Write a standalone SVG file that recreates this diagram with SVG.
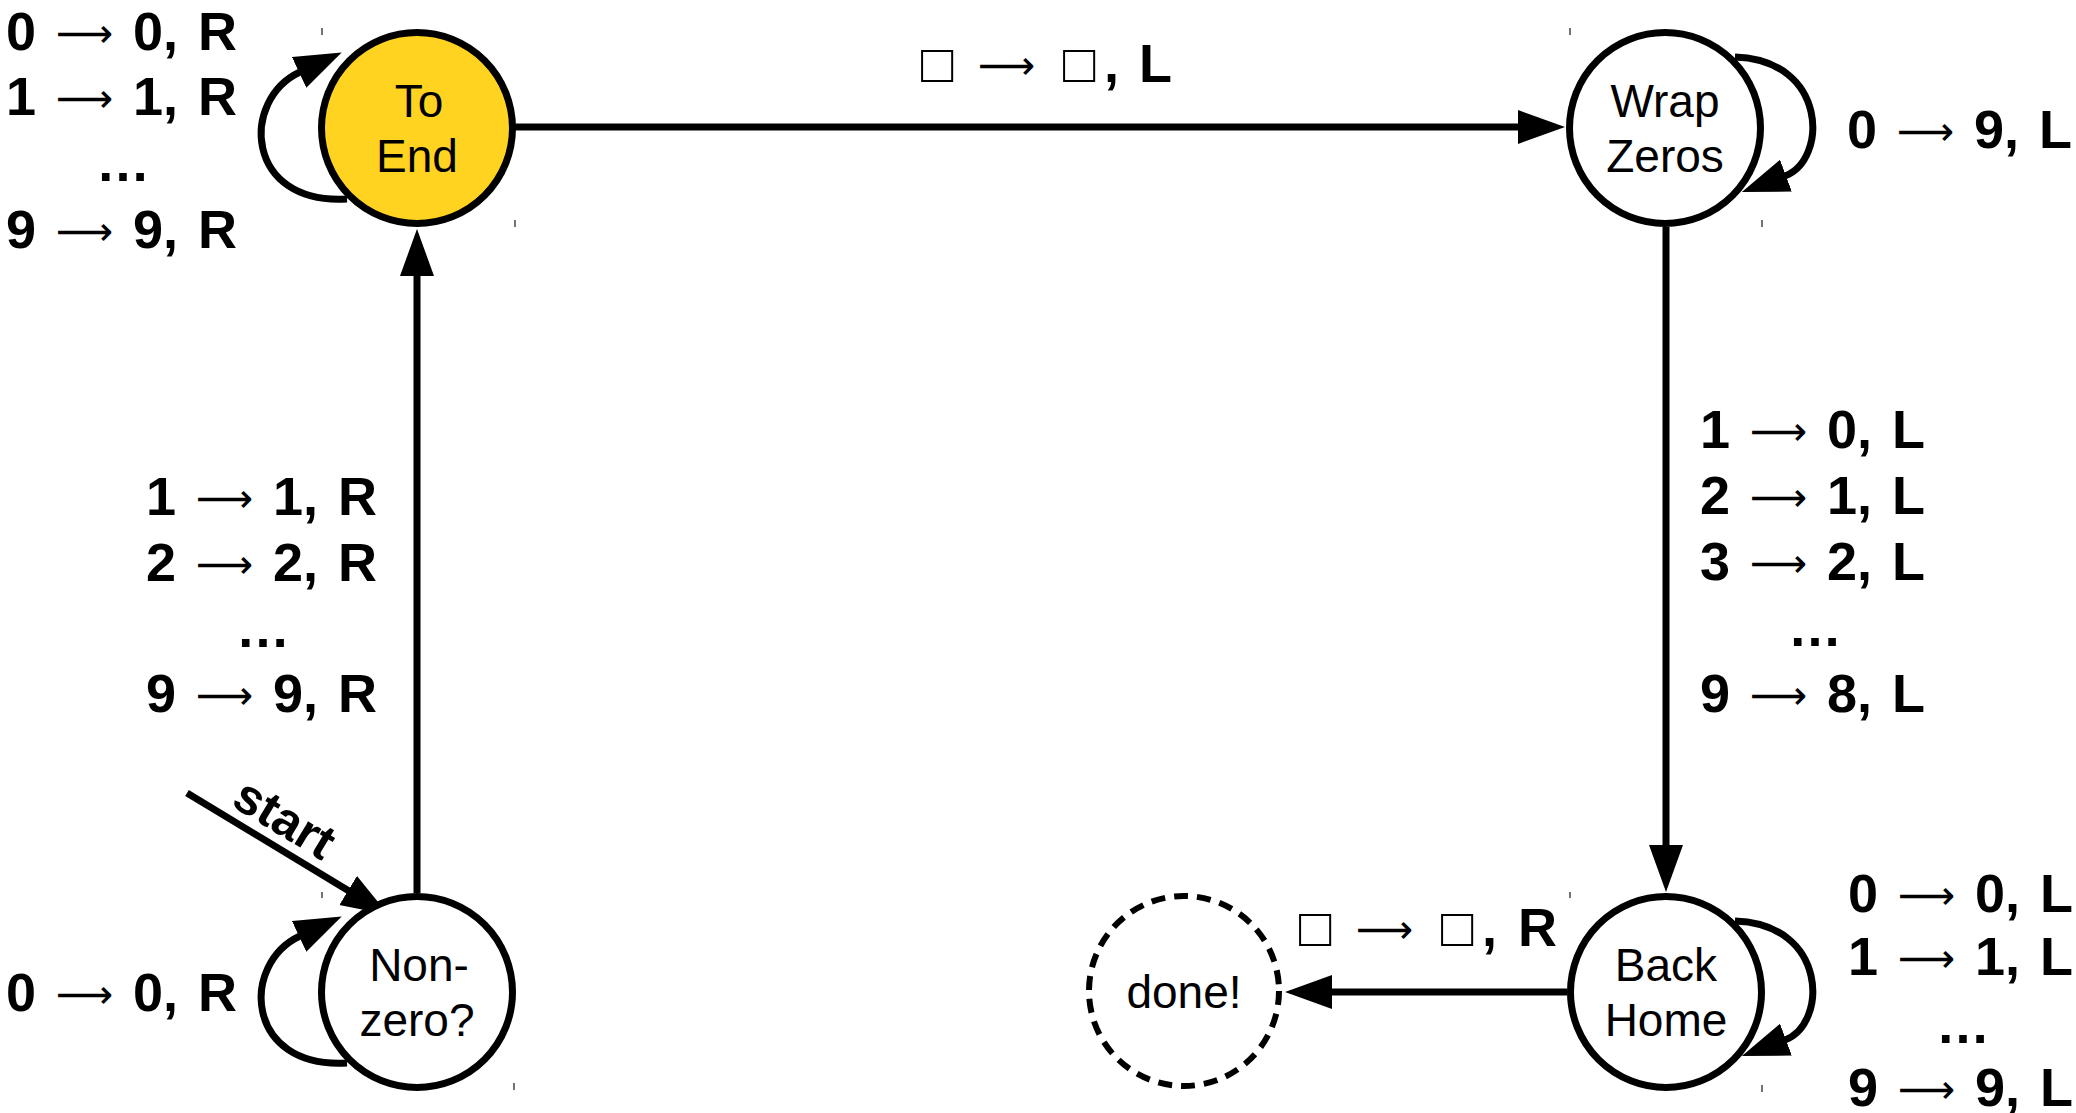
<svg xmlns="http://www.w3.org/2000/svg" width="2076" height="1113" viewBox="0 0 2076 1113">
<style>
.lbl{font-family:"Liberation Sans",Arial,sans-serif;font-weight:bold;font-size:54px;fill:#000}
.ar{font-weight:normal}
.la{font-family:"DejaVu Sans",sans-serif;font-weight:normal;font-size:40px}
.nt{font-family:"Liberation Sans",Arial,sans-serif;font-size:46px;fill:#000;text-anchor:middle}
.edge{stroke:#000;stroke-width:7;fill:none}
.node{stroke:#000;stroke-width:7;fill:#fff}
.tick{stroke:#444;stroke-width:1.5}
</style>
<defs>
<marker id="ah" markerUnits="userSpaceOnUse" markerWidth="50" markerHeight="36" refX="1" refY="17" orient="auto">
<path d="M0,0 L47,17 L0,34 Z" fill="#000"/>
</marker>
</defs>
<rect width="2076" height="1113" fill="#fff"/>

<g id="connectors">
<path class="edge" d="M513,127 L1519,127" marker-end="url(#ah)"/>
<path class="edge" d="M1666,227 L1666,846" marker-end="url(#ah)"/>
<path class="edge" d="M1567,992 L1331,992" marker-end="url(#ah)"/>
<path class="edge" d="M417,893 L417,275" marker-end="url(#ah)"/>
<path class="edge" d="M187,793 L349,891" marker-end="url(#ah)"/>
<path class="edge" d="M347,199 C245,205 240,100 300,72" marker-end="url(#ah)"/>
<path class="edge" d="M347,1063 C245,1069 240,964 300,936" marker-end="url(#ah)"/>
<path class="edge" d="M1735,57 C1828,60 1828,160 1785,176" marker-end="url(#ah)"/>
<path class="edge" d="M1735,921 C1828,924 1828,1024 1785,1040" marker-end="url(#ah)"/>
</g>

<g id="node-toend">
<circle class="node" cx="417" cy="128" r="95.5" style="fill:#FFD320"/>
<text class="nt" x="419" y="117">To</text>
<text class="nt" x="417" y="172">End</text>
</g>
<g id="node-wrapzeros">
<circle class="node" cx="1665" cy="128" r="95.5"/>
<text class="nt" x="1665" y="117">Wrap</text>
<text class="nt" x="1665" y="172">Zeros</text>
</g>
<g id="node-nonzero">
<circle class="node" cx="417" cy="992" r="95.5"/>
<text class="nt" x="419" y="981">Non-</text>
<text class="nt" x="417" y="1036">zero?</text>
</g>
<g id="node-backhome">
<circle class="node" cx="1666" cy="992" r="95.5"/>
<text class="nt" x="1666" y="981">Back</text>
<text class="nt" x="1666" y="1036">Home</text>
</g>
<g id="node-done">
<circle class="node" cx="1184" cy="991" r="95" style="stroke-width:6;stroke-dasharray:14 9"/>
<text class="nt" x="1184" y="1008">done!</text>
</g>

<g id="ticks">
<line class="tick" x1="322" y1="28" x2="322" y2="35"/>
<line class="tick" x1="515" y1="220" x2="515" y2="227"/>
<line class="tick" x1="1570" y1="28" x2="1570" y2="35"/>
<line class="tick" x1="1762" y1="220" x2="1762" y2="227"/>
<line class="tick" x1="322" y1="892" x2="322" y2="898"/>
<line class="tick" x1="514" y1="1083" x2="514" y2="1090"/>
<line class="tick" x1="1570" y1="892" x2="1570" y2="898"/>
<line class="tick" x1="1762" y1="1085" x2="1762" y2="1092"/>
</g>

<g id="labels">
<text class="lbl" y="50"><tspan x="6">0</tspan><tspan class="la" x="56" dy="-3">⟶</tspan><tspan x="133" dy="3">0,</tspan><tspan x="198">R</tspan></text>
<text class="lbl" y="115"><tspan x="6">1</tspan><tspan class="la" x="56" dy="-3">⟶</tspan><tspan x="133" dy="3">1,</tspan><tspan x="198">R</tspan></text>
<text class="lbl" x="123" y="181" text-anchor="middle">…</text>
<text class="lbl" y="248"><tspan x="6">9</tspan><tspan class="la" x="56" dy="-3">⟶</tspan><tspan x="133" dy="3">9,</tspan><tspan x="198">R</tspan></text>

<text class="lbl" y="515"><tspan x="146">1</tspan><tspan class="la" x="196" dy="-3">⟶</tspan><tspan x="273" dy="3">1,</tspan><tspan x="338">R</tspan></text>
<text class="lbl" y="581"><tspan x="146">2</tspan><tspan class="la" x="196" dy="-3">⟶</tspan><tspan x="273" dy="3">2,</tspan><tspan x="338">R</tspan></text>
<text class="lbl" x="263" y="647" text-anchor="middle">…</text>
<text class="lbl" y="712"><tspan x="146">9</tspan><tspan class="la" x="196" dy="-3">⟶</tspan><tspan x="273" dy="3">9,</tspan><tspan x="338">R</tspan></text>

<text class="lbl" y="1011"><tspan x="6">0</tspan><tspan class="la" x="56" dy="-3">⟶</tspan><tspan x="133" dy="3">0,</tspan><tspan x="198">R</tspan></text>

<text class="lbl" y="148"><tspan x="1847">0</tspan><tspan class="la" x="1897" dy="-3">⟶</tspan><tspan x="1974" dy="3">9,</tspan><tspan x="2039">L</tspan></text>

<text class="lbl" y="448"><tspan x="1700">1</tspan><tspan class="la" x="1750" dy="-3">⟶</tspan><tspan x="1827" dy="3">0,</tspan><tspan x="1892">L</tspan></text>
<text class="lbl" y="514"><tspan x="1700">2</tspan><tspan class="la" x="1750" dy="-3">⟶</tspan><tspan x="1827" dy="3">1,</tspan><tspan x="1892">L</tspan></text>
<text class="lbl" y="580"><tspan x="1700">3</tspan><tspan class="la" x="1750" dy="-3">⟶</tspan><tspan x="1827" dy="3">2,</tspan><tspan x="1892">L</tspan></text>
<text class="lbl" x="1815" y="646" text-anchor="middle">…</text>
<text class="lbl" y="712"><tspan x="1700">9</tspan><tspan class="la" x="1750" dy="-3">⟶</tspan><tspan x="1827" dy="3">8,</tspan><tspan x="1892">L</tspan></text>

<text class="lbl" y="912"><tspan x="1848">0</tspan><tspan class="la" x="1898" dy="-3">⟶</tspan><tspan x="1975" dy="3">0,</tspan><tspan x="2040">L</tspan></text>
<text class="lbl" y="975"><tspan x="1848">1</tspan><tspan class="la" x="1898" dy="-3">⟶</tspan><tspan x="1975" dy="3">1,</tspan><tspan x="2040">L</tspan></text>
<text class="lbl" x="1963" y="1043" text-anchor="middle">…</text>
<text class="lbl" y="1106"><tspan x="1848">9</tspan><tspan class="la" x="1898" dy="-3">⟶</tspan><tspan x="1975" dy="3">9,</tspan><tspan x="2040">L</tspan></text>

<text class="lbl" y="82"><tspan class="ar" x="921">□</tspan><tspan class="la" x="978" dy="-3">⟶</tspan><tspan class="ar" x="1063" dy="3">□</tspan><tspan x="1104">,</tspan><tspan x="1139">L</tspan></text>
<text class="lbl" y="946"><tspan class="ar" x="1299">□</tspan><tspan class="la" x="1356" dy="-3">⟶</tspan><tspan class="ar" x="1441" dy="3">□</tspan><tspan x="1482">,</tspan><tspan x="1518">R</tspan></text>

<text class="lbl" x="276" y="833" text-anchor="middle" transform="rotate(31.2 276 833)" style="font-size:50px">start</text>
</g>
</svg>
